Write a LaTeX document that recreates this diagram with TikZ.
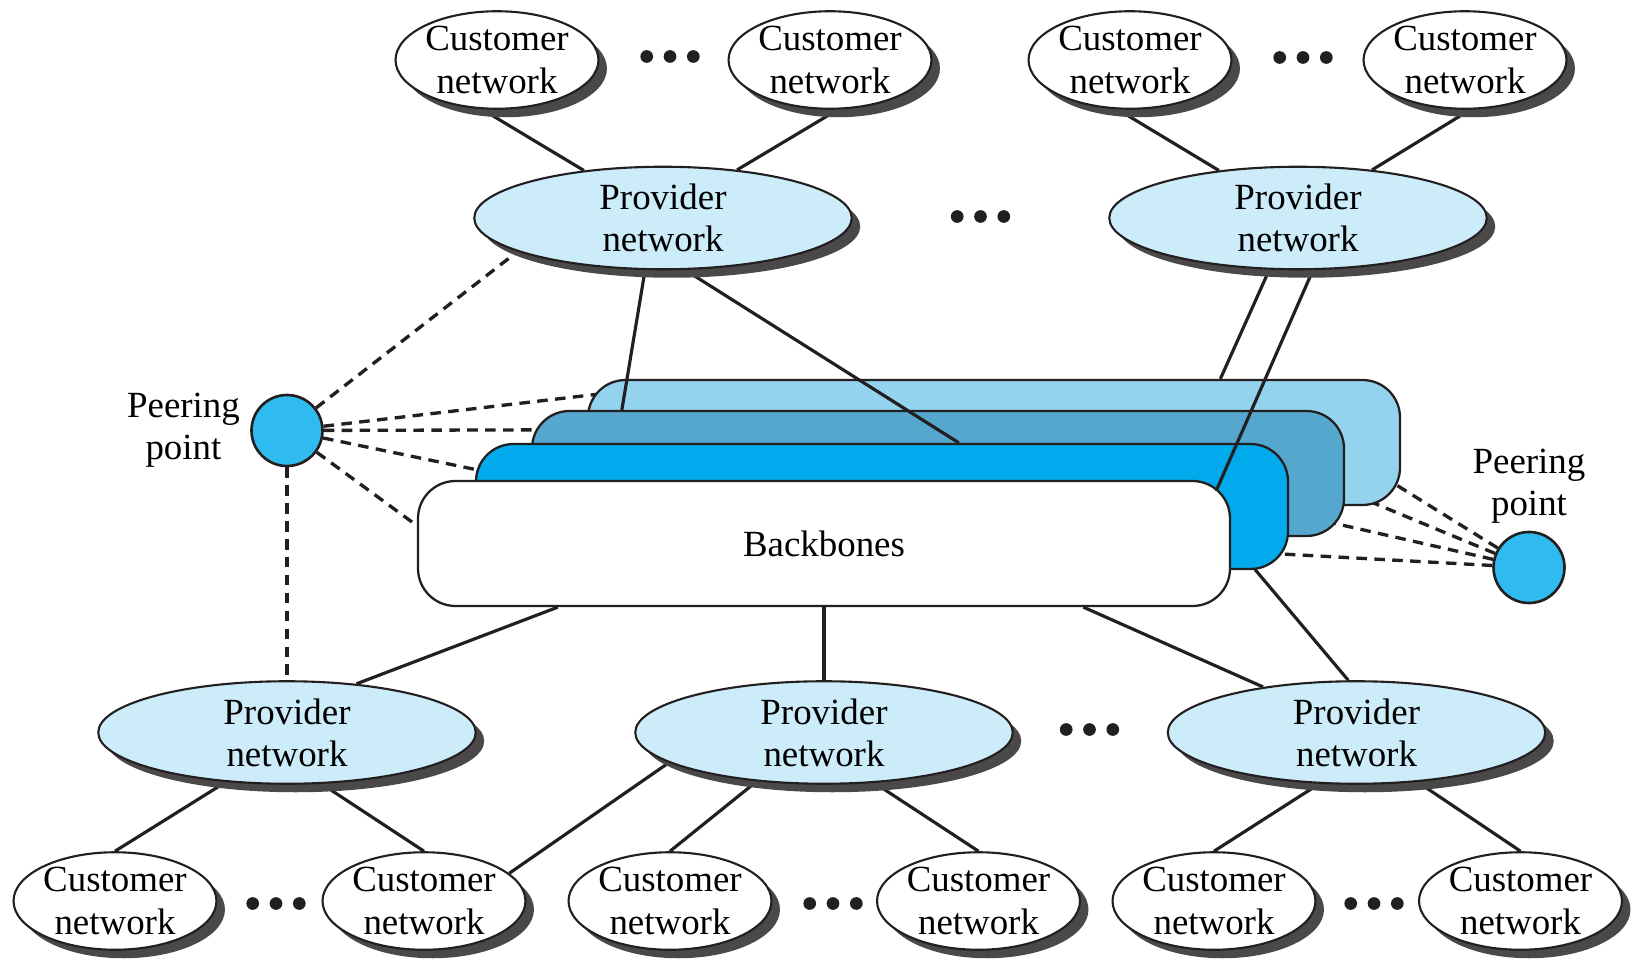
\documentclass[tikz,border=0pt]{standalone}
\usepackage{fontspec}
\setmainfont{Liberation Serif}
\usetikzlibrary{positioning,shapes.geometric,shadows,calc}
\pgfdeclarelayer{background}
\pgfdeclarelayer{front}
\pgfsetlayers{background,main,front}
\definecolor{linec}{HTML}{231F20}
\definecolor{shadowc}{HTML}{4B484A}
\definecolor{provc}{HTML}{CBECF8}
\definecolor{bblight}{HTML}{93D3EE}
\definecolor{bbmid}{HTML}{55A7CD}
\definecolor{bbblue}{HTML}{00AAEC}
\definecolor{peerc}{HTML}{2FBBEF}

\begin{document}
\begin{tikzpicture}[
  conn/.style={draw=linec, line width=1.8pt},
  peerln/.style={draw=linec, line width=1.9pt, dash pattern=on 6pt off 4.2pt},
  cust/.style={ellipse, draw=linec, line width=1.2pt, fill=white, minimum width=4cm, minimum height=1.95cm, inner sep=0pt, align=center, font=\fontsize{21}{24}\selectfont,
    drop shadow={shadow xshift=0.17cm, shadow yshift=-0.17cm, fill=shadowc, opacity=1}},
  prov/.style={cust, fill=provc, minimum width=7.55cm, minimum height=2.05cm},
  bbox/.style={draw=linec, line width=1.3pt, rounded corners=0.75cm, minimum width=16.24cm, minimum height=2.5cm, font=\fontsize{21}{24}\selectfont},
  peerpt/.style={circle, draw=linec, line width=1.5pt, fill=peerc, minimum size=1.42cm, inner sep=0pt},
  lbl/.style={align=center, inner sep=0pt, font=\fontsize{21}{24}\selectfont},
  dots/.style={minimum width=1.3cm, minimum height=0.3cm, inner sep=0pt,
    path picture={\foreach \k in {-1,0,1} \fill[linec] ($(path picture bounding box.center)+(\k*0.466,0)$) circle (0.127);}}]
\useasboundingbox (0,0) rectangle (32.82,-19.32);

\begin{pgfonlayer}{front}
% customer networks, top row
\node[cust] (c1) at (9.94,-1.2)  {Customer\\network};
\node[cust] (c2) at (16.6,-1.2)  {Customer\\network};
\node[cust] (c3) at (22.6,-1.2)  {Customer\\network};
\node[cust] (c4) at (29.3,-1.2)  {Customer\\network};
% provider networks
\node[prov] (p1) at (13.26,-4.36) {Provider\\network};
\node[prov] (p2) at (25.96,-4.36) {Provider\\network};
\node[prov] (q1) at (5.74,-14.65)  {Provider\\network};
\node[prov] (q2) at (16.48,-14.65) {Provider\\network};
\node[prov] (q3) at (27.13,-14.65) {Provider\\network};
% customer networks, bottom row
\node[cust] (d1) at (2.30,-18.02)  {Customer\\network};
\node[cust] (d2) at (8.48,-18.02)  {Customer\\network};
\node[cust] (d3) at (13.40,-18.02) {Customer\\network};
\node[cust] (d4) at (19.57,-18.02) {Customer\\network};
\node[cust] (d5) at (24.28,-18.02) {Customer\\network};
\node[cust] (d6) at (30.41,-18.02) {Customer\\network};
% peering points
\node[peerpt] (pp1) at (5.74,-8.61)  {};
\node[peerpt] (pp2) at (30.58,-11.35) {};
\end{pgfonlayer}

% backbones, back to front
\node[bbox, fill=bblight] (bb3) at (19.88,-8.85)  {};
\node[bbox, fill=bbmid]   (bb2) at (18.76,-9.47)  {};
\node[bbox, fill=bbblue]  (bb1) at (17.64,-10.13) {};
\node[bbox, fill=white]   (bb0) at (16.48,-10.87) {Backbones};

\node[lbl, left=0.2cm of pp1]   (ppl1) {Peering\\point};
\node[lbl, above=0.14cm of pp2] (ppl2) {Peering\\point};

% ellipses
\node[dots] (dt1) at (13.4,-1.13)   {};
\node[dots] (dt2) at (26.06,-1.15)  {};
\node[dots] (dt3) at (19.61,-4.33)  {};
\node[dots] (dt4) at (21.79,-14.59) {};
\node[dots] (dt5) at (5.52,-18.07)  {};
\node[dots] (dt6) at (16.66,-18.07) {};
\node[dots] (dt7) at (27.48,-18.07) {};

% links
\draw[conn] (c1.-107) -- (p1.149);
\draw[conn] (c2.-81)  -- (p1.33);
\draw[conn] (c3.-104) -- (p2.149);
\draw[conn] (c4.-84)  -- (p2.33);
\draw[conn] (p1.-109) -- ($(bb2.north west)+(1.82,0)$);
\draw[conn] (p1.-67)  -- ($(bb1.north west)+(9.68,0)$);
\draw[conn] (p2.-119) -- ($(bb3.north west)+(12.67,0)$);
\draw[conn] (p2.-74)  -- ($(bb0.north east)+(-0.3,-0.22)$);
\draw[conn] ($(bb0.south west)+(2.82,0)$) -- (q1.35);
\draw[conn] (bb0.south) -- (q2.north);
\draw[conn] ($(bb0.south west)+(13.33,0)$) -- (q3.154);
\draw[conn] ($(bb1.south east)+(-0.68,0.01)$) -- (q3.99);
\draw[conn] (q1.-141) -- (d1.north);
\draw[conn] (q1.-56)  -- (d2.north);
\draw[conn] (q2.-169) -- (d2.18);
\draw[conn] (q2.-144) -- (d3.north);
\draw[conn] (q2.-45)  -- (d4.north);
\draw[conn] (q3.-126) -- (d5.north);
\draw[conn] (q3.-39)  -- (d6.north);

% peering links, behind everything
\begin{pgfonlayer}{background}
\draw[peerln] (pp1) -- (p1.-167);
\draw[peerln] (pp1) -- ($(bb3.north west)+(0.28,-0.3)$);
\draw[peerln] (pp1) -- ($(bb2.north west)+(0.28,-0.4)$);
\draw[peerln] (pp1) -- ($(bb1.north west)+(0.24,-0.58)$);
\draw[peerln] (pp1) -- ($(bb0.north west)+(0.2,-1.06)$);
\draw[peerln] (pp1) -- (q1);
\draw[peerln] (pp2) -- ($(bb3.south east)+(-0.38,0.6)$);
\draw[peerln] (pp2) -- ($(bb2.south east)+(-0.34,1.06)$);
\draw[peerln] (pp2) -- ($(bb1.south east)+(-0.26,1.2)$);
\draw[peerln] (pp2) -- ($(bb0.south east)+(-0.22,1.13)$);
\end{pgfonlayer}
\end{tikzpicture}
\end{document}
